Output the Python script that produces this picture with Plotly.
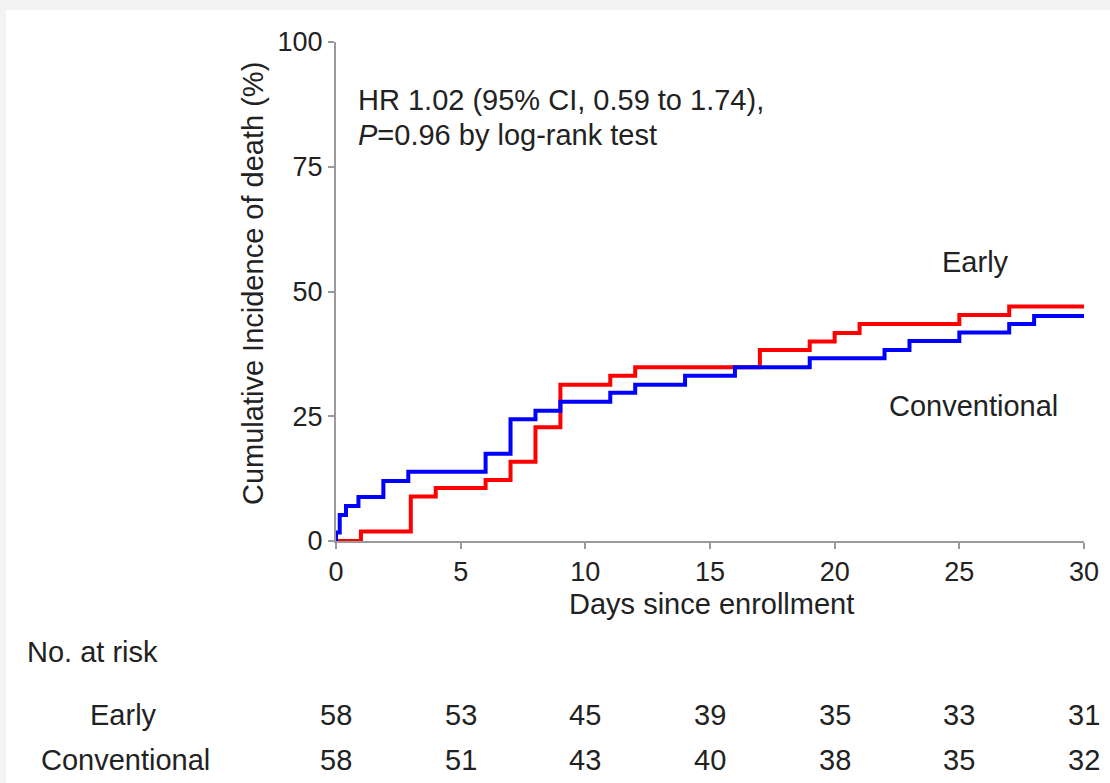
import plotly.graph_objects as go

# ---- data ----
early_days = [0, 1, 3, 4, 6, 7, 8, 9, 11, 12, 17, 19, 20, 21, 25, 27, 30]
early_pct = [0, 1.9, 8.9, 10.6, 12.2, 15.9, 22.8, 31.3, 33.1, 34.8, 38.3, 40.0, 41.7, 43.5, 45.3, 47.0, 47.0]

conv_days = [0, 0, 0.15, 0.4, 0.9, 1.9, 2.9, 6, 7, 8, 9, 11, 12, 14, 16, 19, 22, 23, 25, 27, 28, 30]
conv_pct = [0, 1.7, 5.2, 7.0, 8.8, 12.0, 13.9, 17.5, 24.4, 26.1, 27.9, 29.7, 31.3, 33.1, 34.8, 36.6,
            38.3, 40.1, 41.8, 43.5, 45.1, 45.1]

risk_days = [0, 5, 10, 15, 20, 25, 30]
risk_early = [58, 53, 45, 39, 35, 33, 31]
risk_conv = [58, 51, 43, 40, 38, 35, 32]

x_ticks = [0, 5, 10, 15, 20, 25, 30]
y_ticks = [0, 25, 50, 75, 100]

# ---- layout geometry (pixels) ----
W, H = 1110, 783
L, R, T, B = 336, 1084, 42, 541
pw, ph = R - L, B - T


def px(x):
    return (x - L) / pw


def py(y):
    return (B - y) / ph


FONT = "Liberation Sans, Arial, sans-serif"
TXT = "#222222"
AX = "#9a9a9a"
FS = 29

fig = go.Figure()
fig.add_trace(go.Scatter(x=early_days, y=early_pct, mode="lines", line=dict(color="#ff0000", width=4, shape="hv"),
                         name="Early", showlegend=False, hoverinfo="skip"))
fig.add_trace(go.Scatter(x=conv_days, y=conv_pct, mode="lines", line=dict(color="#0000ff", width=4, shape="hv"),
                         name="Conventional", showlegend=False, hoverinfo="skip"))

ann = []
# statistics text
ann.append(dict(x=px(356), y=py(100), xref="paper", yref="paper", xanchor="left", yanchor="middle",
                text="HR 1.02 (95% CI, 0.59 to 1.74),", showarrow=False, font=dict(size=FS, color=TXT)))
ann.append(dict(x=px(356), y=py(135), xref="paper", yref="paper", xanchor="left", yanchor="middle",
                text="<i>P</i>=0.96 by log-rank test", showarrow=False, font=dict(size=FS, color=TXT)))
# curve labels
ann.append(dict(x=px(975), y=py(262), xref="paper", yref="paper", xanchor="center", yanchor="middle",
                text="Early", showarrow=False, font=dict(size=FS, color=TXT)))
ann.append(dict(x=px(973), y=py(406), xref="paper", yref="paper", xanchor="center", yanchor="middle",
                text="Conventional", showarrow=False, font=dict(size=FS, color=TXT)))
# axis titles
ann.append(dict(x=px(711), y=py(604), xref="paper", yref="paper", xanchor="center", yanchor="middle",
                text="Days since enrollment", showarrow=False, font=dict(size=FS, color=TXT)))
ann.append(dict(x=px(253), y=py(284), xref="paper", yref="paper", xanchor="center", yanchor="middle",
                text="Cumulative Incidence of death (%)", textangle=-90, showarrow=False,
                font=dict(size=FS, color=TXT)))
# at-risk table
ann.append(dict(x=px(25), y=py(652), xref="paper", yref="paper", xanchor="left", yanchor="middle",
                text="No. at risk", showarrow=False, font=dict(size=FS, color=TXT)))
ann.append(dict(x=px(124), y=py(715), xref="paper", yref="paper", xanchor="center", yanchor="middle",
                text="Early", showarrow=False, font=dict(size=FS, color=TXT)))
ann.append(dict(x=px(125), y=py(760), xref="paper", yref="paper", xanchor="center", yanchor="middle",
                text="Conventional", showarrow=False, font=dict(size=FS, color=TXT)))
for d, e, c in zip(risk_days, risk_early, risk_conv):
    ann.append(dict(x=d, y=py(715), xref="x", yref="paper", xanchor="center", yanchor="middle",
                    text=str(e), showarrow=False, font=dict(size=FS, color=TXT)))
    ann.append(dict(x=d, y=py(760), xref="x", yref="paper", xanchor="center", yanchor="middle",
                    text=str(c), showarrow=False, font=dict(size=FS, color=TXT)))

shapes = [dict(type="rect", xref="paper", yref="paper", x0=px(6), x1=px(W + 20), y0=py(H + 40), y1=py(10),
               fillcolor="white", line=dict(width=0), layer="below")]

fig.update_layout(
    width=W, height=H,
    margin=dict(l=L, r=W - R, t=T, b=H - B, pad=0),
    paper_bgcolor="#f3f3f3", plot_bgcolor="rgba(0,0,0,0)",
    font=dict(family=FONT, color=TXT),
    annotations=ann, shapes=shapes,
    xaxis=dict(range=[0, 30], tickvals=x_ticks, ticktext=[str(v) for v in x_ticks],
               showgrid=False, zeroline=False, showline=True, linecolor=AX, linewidth=2,
               ticks="outside", ticklen=6, tickwidth=1.5, tickcolor=AX,
               tickfont=dict(size=27, color=TXT, family=FONT), fixedrange=True),
    yaxis=dict(range=[0, 100], tickvals=y_ticks, ticktext=[str(v) for v in y_ticks],
               showgrid=False, zeroline=False, showline=True, linecolor=AX, linewidth=2,
               ticks="outside", ticklen=6, tickwidth=1.5, tickcolor=AX,
               tickfont=dict(size=27, color=TXT, family=FONT), fixedrange=True),
)

fig.write_html("out.html", config={"displayModeBar": False},
               post_script="document.body.style.margin='0';document.body.style.overflow='hidden';")
